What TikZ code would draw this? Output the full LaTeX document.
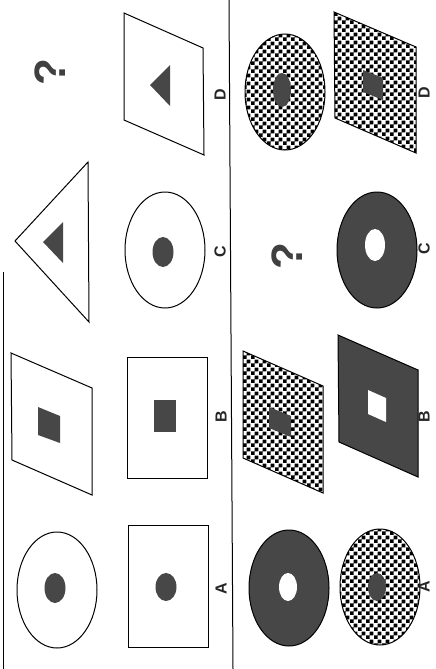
\documentclass[tikz,border=0pt]{standalone}
\usepackage{fontspec}
\newfontfamily\figfont{Liberation Sans}
\usetikzlibrary{patterns}
\pgfdeclarepatternformonly{checks}{\pgfpointorigin}{\pgfqpoint{7.6pt}{7.6pt}}{\pgfqpoint{7.6pt}{7.6pt}}{%
  \pgfpathrectangle{\pgfpointorigin}{\pgfqpoint{3.85pt}{3.85pt}}%
  \pgfpathrectangle{\pgfqpoint{3.8pt}{3.8pt}}{\pgfqpoint{3.85pt}{3.85pt}}%
  \pgfusepath{fill}}
\tikzset{
  figno/.style={draw=none, fill=none, black!85, rotate=90, inner sep=0pt, font=\figfont\bfseries\fontsize{16}{16}\selectfont},
  qmark/.style={draw=none, fill=none, black!75, rotate=90, inner sep=0pt, font=\figfont\bfseries\fontsize{44}{44}\selectfont},
  figlines/.style={line width=1pt, draw=black},
  blank/.style={figlines, fill=white},
  dark/.style={figlines, fill=black!72},
  chk/.style={figlines, pattern=checks},
  spot/.style={draw=none, fill=black!72},
  hole/.style={draw=none, fill=white},
}

\begin{document}
\begin{tikzpicture}[x=1pt, y=-1pt]
\fill[white] (0,0) rectangle (436,669);
\useasboundingbox (0,0) rectangle (436,669);
% frame lines
\draw[figlines] (229,0) -- (233,669);
\draw[figlines] (3,272) -- (3,669);
% left half, first column
\node[qmark] (q1) at (50,72) {?};
\draw[blank] (88,162) -- (15,241) -- (89,322) -- cycle;
\draw[spot] (43,242) -- (63,222) -- (63,263) -- cycle;
\draw[blank] (11,353) -- (92,388) -- (92,495) -- (12,460) -- cycle;
\draw[spot] (38,407) -- (60,416) -- (60,443) -- (38,435) -- cycle;
\draw[blank] (57,590) ellipse (40 and 58);
\draw[spot] (55,588) ellipse (10.5 and 15);
% left half, second column
\draw[blank] (124,13) -- (203,48) -- (204,155) -- (124,120) -- cycle;
\draw[spot] (150,85) -- (170,65) -- (170,106) -- cycle;
\draw[blank] (165,250) ellipse (40 and 58);
\draw[spot] (163,252) ellipse (10.5 and 15);
\draw[blank] (127,357) rectangle (207,478);
\draw[spot] (154,400) rectangle (176,432);
\draw[blank] (128,525) rectangle (208,647);
\draw[spot] (166,587) ellipse (10.5 and 14);
\node[figno] (lD) at (220,95) {D};
\node[figno] (lC) at (220,252) {C};
\node[figno] (lB) at (221,417) {B};
\node[figno] (lA) at (221,589) {A};
% right half, first column
\draw[chk] (285,92) ellipse (40 and 58);
\draw[spot] (282,90) ellipse (9 and 17);
\node[qmark] (q2) at (287,256) {?};
\draw[chk] (243,351) -- (323,386) -- (323,493) -- (243,458) -- cycle;
\draw[spot] (269,407) -- (291,416) -- (291,437) -- (269,428) -- cycle;
\draw[dark] (289,588) ellipse (40 and 58);
\draw[hole] (288,587) ellipse (9 and 14);
% right half, second column
\draw[chk] (334,12) -- (416,47) -- (416,153) -- (335,118) -- cycle;
\draw[spot] (363,70) -- (383,78) -- (383,100) -- (363,92) -- cycle;
\draw[dark] (377,250) ellipse (40 and 58);
\draw[hole] (375,245) ellipse (10 and 16);
\draw[dark] (338,335) -- (418,370) -- (418,477) -- (339,442) -- cycle;
\draw[hole] (368,390) -- (386,398) -- (386,422) -- (368,414) -- cycle;
\draw[chk] (380,587) ellipse (40 and 58);
\draw[spot] (377,587) ellipse (9 and 14);
\node[figno] (rD) at (424,93) {D};
\node[figno] (rC) at (424,249) {C};
\node[figno] (rB) at (424,417) {B};
\node[figno] (rA) at (424,587) {A};
\end{tikzpicture}
\end{document}
